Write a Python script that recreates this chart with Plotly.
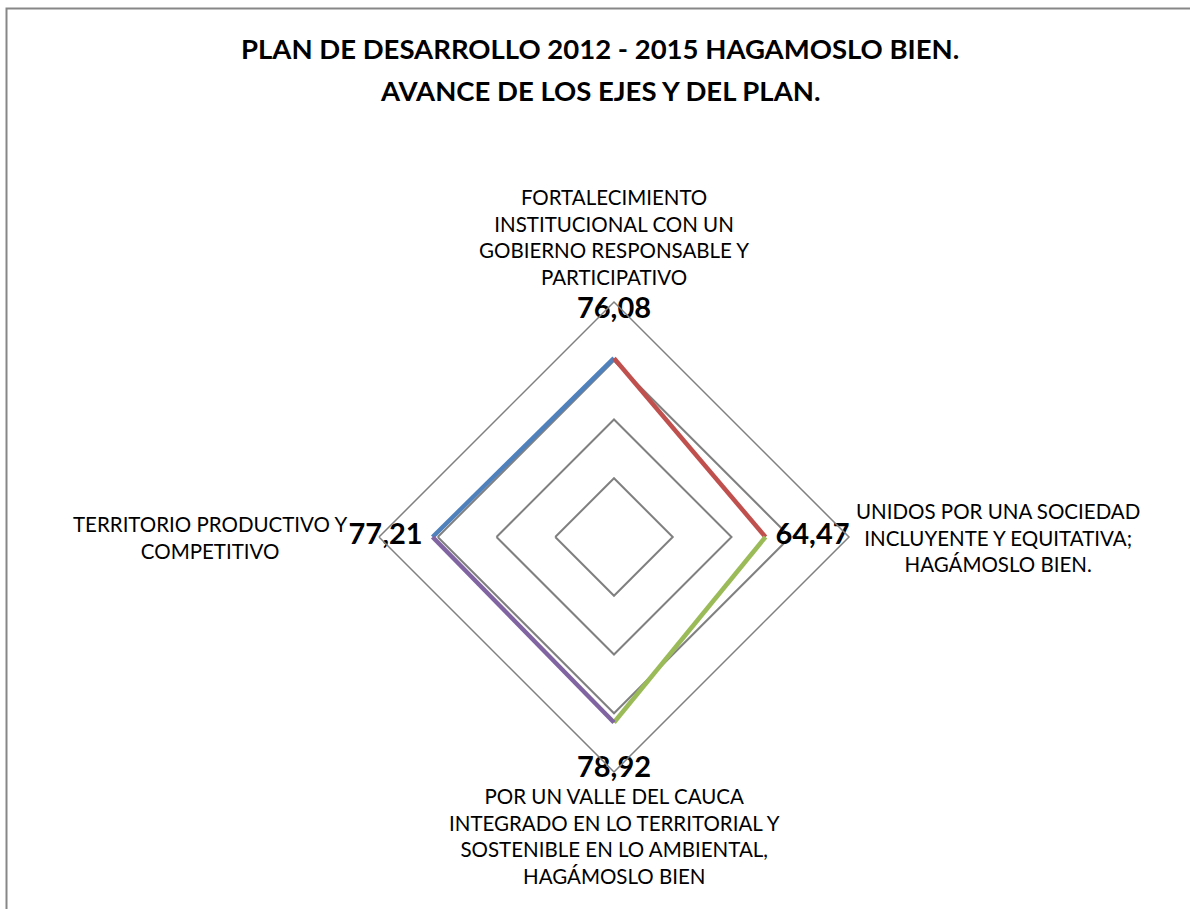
import plotly.graph_objects as go

W, H = 1190, 909

categories = [
    "FORTALECIMIENTO<br>INSTITUCIONAL CON UN<br>GOBIERNO RESPONSABLE Y<br>PARTICIPATIVO",
    "UNIDOS POR UNA SOCIEDAD<br>INCLUYENTE Y EQUITATIVA;<br>HAGÁMOSLO BIEN.",
    "POR UN VALLE DEL CAUCA<br>INTEGRADO EN LO TERRITORIAL Y<br>SOSTENIBLE EN LO AMBIENTAL,<br>HAGÁMOSLO BIEN",
    "TERRITORIO PRODUCTIVO Y<br>COMPETITIVO",
]
values = [76.08, 64.47, 78.92, 77.21]
value_labels = ["76,08", "64,47", "78,92", "77,21"]
segment_colors = ["#4F81BD", "#C0504D", "#9BBB59", "#8064A2"]  # left->top, top->right, right->bottom, bottom->left
grid_vals = [25, 50, 75, 100]
title_lines = ["PLAN DE DESARROLLO 2012 - 2015 HAGAMOSLO BIEN.", "AVANCE DE LOS EJES Y DEL PLAN."]

FONT = "Lato"
GRID = "#808080"

# polar geometry in px
cx, cy, R = 614, 537, 235

def px(x):
    return x / W

def py(y):
    return 1 - y / H

fig = go.Figure()

cat_ids = ["c0", "c1", "c2", "c3"]
seg_pairs = [(3, 0), (0, 1), (1, 2), (2, 3)]
for (a, b), col in zip(seg_pairs, segment_colors):
    fig.add_trace(go.Scatterpolar(
        r=[values[a], values[b]],
        theta=[cat_ids[a], cat_ids[b]],
        mode="lines",
        line=dict(color=col, width=4.5),
        hoverinfo="skip",
        showlegend=False,
    ))

# data labels
fig.add_trace(go.Scatterpolar(
    r=[v + 20 for v in values],
    theta=cat_ids,
    mode="text",
    text=value_labels,
    textposition="middle center",
    textfont=dict(family=FONT, size=29, color="#000000", weight="bold"),
    hoverinfo="skip",
    showlegend=False,
    cliponaxis=False,
))

fig.update_layout(
    width=W, height=H,
    margin=dict(l=0, r=0, t=0, b=0),
    paper_bgcolor="white",
    plot_bgcolor="white",
    showlegend=False,
    polar=dict(
        domain=dict(x=[px(cx - R), px(cx + R)], y=[py(cy + R), py(cy - R)]),
        bgcolor="white",
        gridshape="linear",
        radialaxis=dict(
            range=[0, 100], tickvals=grid_vals, showticklabels=False, ticks="",
            showline=False, gridcolor=GRID, gridwidth=1.5,
        ),
        angularaxis=dict(
            type="category", categoryarray=cat_ids, rotation=90, direction="clockwise",
            showgrid=False, showline=True, linecolor=GRID, linewidth=1.5,
            showticklabels=False, ticks="",
        ),
    ),
)

label_font = dict(family=FONT, size=20.5, color="#000000")
fig.add_annotation(text=categories[0], x=px(614), y=py(291), xref="paper", yref="paper",
                   xanchor="center", yanchor="bottom", align="center", showarrow=False, font=label_font)
fig.add_annotation(text=categories[1], x=px(998), y=py(537), xref="paper", yref="paper",
                   xanchor="center", yanchor="middle", align="center", showarrow=False, font=label_font)
fig.add_annotation(text=categories[2], x=px(614), y=py(782), xref="paper", yref="paper",
                   xanchor="center", yanchor="top", align="center", showarrow=False, font=label_font)
fig.add_annotation(text=categories[3], x=px(210), y=py(537), xref="paper", yref="paper",
                   xanchor="center", yanchor="middle", align="center", showarrow=False, font=label_font)

title_font = dict(family=FONT, size=27.5, color="#000000", weight="bold")
fig.add_annotation(text=title_lines[0], x=px(600), y=py(49), xref="paper", yref="paper",
                   xanchor="center", yanchor="middle", showarrow=False, font=title_font)
fig.add_annotation(text=title_lines[1], x=px(600), y=py(91), xref="paper", yref="paper",
                   xanchor="center", yanchor="middle", showarrow=False, font=title_font)

fig.add_shape(type="rect", xref="paper", yref="paper",
              x0=px(6.5), y0=py(8.5), x1=1.1, y1=-0.1,
              line=dict(color="#878787", width=2), fillcolor="rgba(0,0,0,0)", layer="below")

fig.write_html(
    "out.html",
    config={"displayModeBar": False},
    post_script="document.body.style.margin='0';document.body.style.overflow='hidden';",
)
